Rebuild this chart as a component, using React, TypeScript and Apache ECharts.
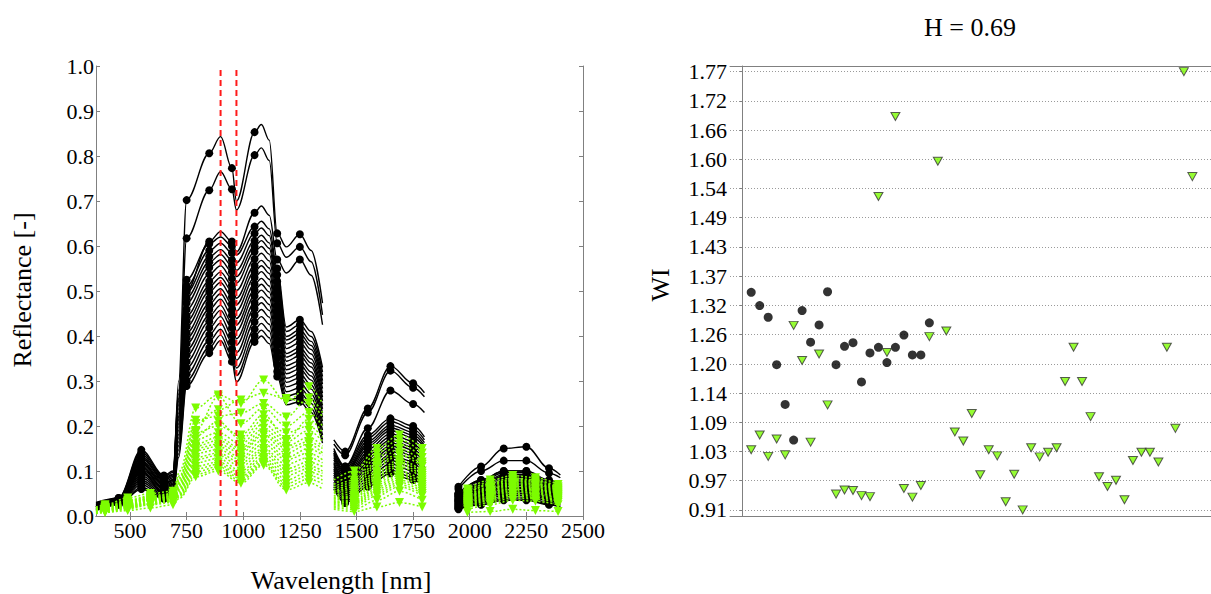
import React, { useEffect, useRef } from "react";
import * as echarts from "echarts";

const FONT = "Liberation Serif";

// ---------------- Left panel: reflectance spectra ----------------
const X_TICKS = [500, 750, 1000, 1250, 1500, 1750, 2000, 2250, 2500];
const WATER_BANDS = [900, 970];

// wavelength grid of the black (marked with circles) spectra
const B_SEG1 = [350, 450, 550, 650, 690, 715, 750, 850, 900, 950, 970, 1050, 1080, 1115, 1150, 1190, 1250, 1300, 1350];
const B_SEG2 = [1400, 1450, 1550, 1650, 1750, 1800];
const B_SEG3 = [1950, 2050, 2150, 2250, 2350, 2400];
const BLACK_MARK_WL = [450, 550, 650, 750, 850, 950, 1050, 1150, 1250, 1450, 1550, 1650, 1750, 1950, 2050, 2150, 2250, 2350];

const BLACK_SPECTRA: number[][] = [
  [0.020, 0.040, 0.120, 0.070, 0.080, 0.300, 0.702, 0.806, 0.843, 0.773, 0.700, 0.853, 0.870, 0.835, 0.628, 0.598, 0.626, 0.590, 0.473, 0.169, 0.143, 0.239, 0.333, 0.295, 0.274, 0.065, 0.110, 0.150, 0.154, 0.106, 0.091],
  [0.020, 0.035, 0.110, 0.060, 0.070, 0.260, 0.617, 0.724, 0.765, 0.726, 0.680, 0.802, 0.818, 0.790, 0.606, 0.575, 0.598, 0.565, 0.447, 0.160, 0.135, 0.230, 0.323, 0.285, 0.265, 0.060, 0.100, 0.123, 0.123, 0.095, 0.085],
  [0.020, 0.030, 0.100, 0.050, 0.060, 0.220, 0.500, 0.610, 0.632, 0.610, 0.587, 0.674, 0.689, 0.668, 0.570, 0.540, 0.570, 0.535, 0.425, 0.140, 0.110, 0.195, 0.279, 0.249, 0.230, 0.050, 0.080, 0.100, 0.100, 0.080, 0.070],
  [0.030, 0.040, 0.147, 0.090, 0.100, 0.280, 0.525, 0.605, 0.620, 0.600, 0.580, 0.643, 0.655, 0.638, 0.550, 0.420, 0.436, 0.410, 0.330, 0.145, 0.105, 0.173, 0.210, 0.193, 0.169, 0.048, 0.077, 0.096, 0.096, 0.072, 0.062],
  [0.029, 0.039, 0.142, 0.087, 0.097, 0.271, 0.511, 0.590, 0.606, 0.585, 0.563, 0.628, 0.640, 0.623, 0.536, 0.410, 0.425, 0.399, 0.320, 0.130, 0.092, 0.155, 0.190, 0.174, 0.152, 0.042, 0.068, 0.086, 0.086, 0.064, 0.055],
  [0.028, 0.038, 0.137, 0.084, 0.093, 0.262, 0.497, 0.576, 0.592, 0.569, 0.546, 0.612, 0.624, 0.607, 0.521, 0.399, 0.414, 0.388, 0.310, 0.150, 0.110, 0.180, 0.217, 0.200, 0.176, 0.050, 0.080, 0.100, 0.100, 0.075, 0.065],
  [0.027, 0.037, 0.132, 0.081, 0.091, 0.255, 0.485, 0.564, 0.581, 0.556, 0.532, 0.599, 0.612, 0.595, 0.509, 0.391, 0.405, 0.379, 0.301, 0.119, 0.082, 0.141, 0.176, 0.159, 0.138, 0.038, 0.061, 0.078, 0.078, 0.058, 0.050],
  [0.026, 0.037, 0.128, 0.079, 0.088, 0.247, 0.473, 0.552, 0.569, 0.543, 0.518, 0.587, 0.599, 0.582, 0.497, 0.382, 0.396, 0.370, 0.293, 0.139, 0.100, 0.166, 0.202, 0.186, 0.163, 0.046, 0.073, 0.092, 0.092, 0.069, 0.060],
  [0.025, 0.036, 0.123, 0.075, 0.085, 0.238, 0.459, 0.537, 0.556, 0.528, 0.501, 0.571, 0.584, 0.567, 0.483, 0.372, 0.385, 0.360, 0.283, 0.135, 0.096, 0.160, 0.196, 0.180, 0.157, 0.044, 0.071, 0.089, 0.089, 0.067, 0.057],
  [0.024, 0.035, 0.117, 0.072, 0.081, 0.229, 0.445, 0.522, 0.542, 0.513, 0.484, 0.556, 0.568, 0.551, 0.468, 0.361, 0.374, 0.349, 0.273, 0.105, 0.070, 0.123, 0.156, 0.140, 0.121, 0.033, 0.053, 0.068, 0.068, 0.050, 0.043],
  [0.023, 0.034, 0.113, 0.070, 0.079, 0.222, 0.433, 0.510, 0.530, 0.500, 0.470, 0.543, 0.556, 0.539, 0.456, 0.353, 0.365, 0.340, 0.264, 0.125, 0.087, 0.148, 0.183, 0.166, 0.145, 0.040, 0.065, 0.082, 0.082, 0.061, 0.052],
  [0.022, 0.033, 0.109, 0.067, 0.076, 0.214, 0.421, 0.498, 0.519, 0.487, 0.456, 0.530, 0.543, 0.526, 0.444, 0.344, 0.356, 0.331, 0.256, 0.096, 0.061, 0.111, 0.144, 0.128, 0.109, 0.029, 0.047, 0.061, 0.061, 0.045, 0.038],
  [0.021, 0.033, 0.104, 0.064, 0.073, 0.205, 0.407, 0.484, 0.505, 0.472, 0.439, 0.515, 0.528, 0.511, 0.430, 0.334, 0.345, 0.320, 0.246, 0.115, 0.078, 0.135, 0.169, 0.153, 0.133, 0.036, 0.059, 0.075, 0.075, 0.056, 0.047],
  [0.020, 0.032, 0.099, 0.061, 0.070, 0.198, 0.395, 0.471, 0.494, 0.459, 0.425, 0.502, 0.515, 0.498, 0.418, 0.325, 0.336, 0.311, 0.238, 0.110, 0.074, 0.129, 0.163, 0.147, 0.127, 0.035, 0.056, 0.071, 0.071, 0.053, 0.045],
  [0.019, 0.031, 0.095, 0.059, 0.067, 0.190, 0.383, 0.459, 0.482, 0.446, 0.411, 0.489, 0.502, 0.485, 0.406, 0.316, 0.327, 0.302, 0.229, 0.081, 0.048, 0.091, 0.123, 0.108, 0.091, 0.023, 0.038, 0.050, 0.050, 0.037, 0.030],
  [0.018, 0.030, 0.090, 0.056, 0.064, 0.181, 0.369, 0.445, 0.468, 0.430, 0.394, 0.474, 0.487, 0.470, 0.392, 0.306, 0.316, 0.291, 0.219, 0.101, 0.065, 0.117, 0.150, 0.134, 0.115, 0.031, 0.050, 0.064, 0.064, 0.048, 0.040],
  [0.017, 0.029, 0.085, 0.053, 0.061, 0.174, 0.357, 0.432, 0.457, 0.418, 0.380, 0.461, 0.474, 0.457, 0.380, 0.297, 0.307, 0.282, 0.211, 0.091, 0.057, 0.104, 0.136, 0.121, 0.103, 0.027, 0.044, 0.057, 0.057, 0.042, 0.035],
  [0.016, 0.028, 0.080, 0.050, 0.058, 0.165, 0.343, 0.418, 0.443, 0.402, 0.363, 0.446, 0.459, 0.442, 0.365, 0.287, 0.296, 0.271, 0.201, 0.070, 0.038, 0.078, 0.108, 0.093, 0.077, 0.019, 0.031, 0.042, 0.042, 0.030, 0.025],
  [0.015, 0.028, 0.075, 0.047, 0.054, 0.156, 0.329, 0.403, 0.429, 0.387, 0.346, 0.431, 0.443, 0.426, 0.351, 0.276, 0.285, 0.261, 0.191, 0.086, 0.052, 0.098, 0.130, 0.115, 0.097, 0.025, 0.041, 0.054, 0.054, 0.040, 0.033],
  [0.014, 0.027, 0.070, 0.044, 0.051, 0.147, 0.315, 0.389, 0.415, 0.371, 0.329, 0.415, 0.428, 0.411, 0.336, 0.266, 0.274, 0.250, 0.180, 0.060, 0.029, 0.065, 0.095, 0.080, 0.065, 0.015, 0.025, 0.035, 0.035, 0.025, 0.020],
  [0.013, 0.026, 0.064, 0.041, 0.048, 0.138, 0.301, 0.374, 0.402, 0.356, 0.312, 0.400, 0.413, 0.396, 0.321, 0.256, 0.263, 0.239, 0.170, 0.075, 0.043, 0.085, 0.116, 0.100, 0.084, 0.021, 0.034, 0.046, 0.046, 0.034, 0.028],
  [0.012, 0.025, 0.060, 0.038, 0.045, 0.130, 0.289, 0.362, 0.390, 0.343, 0.298, 0.387, 0.400, 0.383, 0.310, 0.247, 0.254, 0.230, 0.162, 0.065, 0.033, 0.071, 0.101, 0.086, 0.071, 0.017, 0.028, 0.038, 0.038, 0.027, 0.022],
];

// wavelength grid of the green (marked with triangles) spectra
const G_SEG1 = [350, 390, 490, 590, 690, 720, 790, 890, 990, 1090, 1190, 1290, 1350];
const G_SEG2 = [1400, 1490, 1590, 1690, 1790];
const G_SEG3 = [1990, 2090, 2190, 2290, 2390];
const GREEN_MARK_WL = [390, 490, 590, 690, 790, 890, 990, 1090, 1190, 1290, 1490, 1590, 1690, 1790, 1990, 2090, 2190, 2290, 2390];

const GREEN_SPECTRA: number[][] = [
  [0.020, 0.025, 0.040, 0.050, 0.055, 0.100, 0.240, 0.269, 0.250, 0.302, 0.255, 0.287, 0.250, 0.080, 0.100, 0.150, 0.180, 0.150, 0.060, 0.080, 0.090, 0.085, 0.070],
  [0.018, 0.022, 0.035, 0.045, 0.050, 0.090, 0.205, 0.236, 0.258, 0.273, 0.261, 0.250, 0.220, 0.070, 0.090, 0.140, 0.170, 0.140, 0.055, 0.075, 0.085, 0.080, 0.065],
  [0.016, 0.020, 0.033, 0.043, 0.048, 0.085, 0.213, 0.222, 0.229, 0.250, 0.220, 0.262, 0.230, 0.065, 0.080, 0.130, 0.160, 0.130, 0.050, 0.072, 0.082, 0.078, 0.062],
  [0.015, 0.019, 0.032, 0.042, 0.047, 0.082, 0.190, 0.265, 0.205, 0.240, 0.200, 0.230, 0.200, 0.060, 0.075, 0.120, 0.150, 0.120, 0.048, 0.070, 0.080, 0.075, 0.060],
  [0.014, 0.018, 0.030, 0.040, 0.045, 0.078, 0.185, 0.200, 0.180, 0.225, 0.170, 0.215, 0.185, 0.055, 0.070, 0.115, 0.140, 0.115, 0.045, 0.065, 0.078, 0.072, 0.058],
  [0.013, 0.017, 0.029, 0.039, 0.044, 0.075, 0.177, 0.210, 0.170, 0.215, 0.185, 0.200, 0.175, 0.052, 0.065, 0.110, 0.135, 0.110, 0.042, 0.062, 0.075, 0.070, 0.056],
  [0.013, 0.016, 0.028, 0.038, 0.043, 0.072, 0.170, 0.185, 0.160, 0.205, 0.165, 0.190, 0.165, 0.050, 0.060, 0.100, 0.125, 0.100, 0.040, 0.060, 0.072, 0.068, 0.054],
  [0.012, 0.015, 0.027, 0.037, 0.042, 0.070, 0.160, 0.175, 0.150, 0.195, 0.155, 0.175, 0.155, 0.045, 0.055, 0.095, 0.120, 0.095, 0.038, 0.058, 0.070, 0.065, 0.052],
  [0.012, 0.015, 0.026, 0.036, 0.041, 0.068, 0.155, 0.168, 0.145, 0.185, 0.150, 0.165, 0.150, 0.042, 0.050, 0.090, 0.115, 0.090, 0.036, 0.055, 0.068, 0.062, 0.050],
  [0.011, 0.014, 0.025, 0.035, 0.040, 0.065, 0.150, 0.160, 0.140, 0.180, 0.140, 0.160, 0.140, 0.040, 0.045, 0.085, 0.110, 0.085, 0.034, 0.052, 0.065, 0.060, 0.048],
  [0.011, 0.014, 0.024, 0.034, 0.039, 0.062, 0.145, 0.155, 0.130, 0.170, 0.130, 0.150, 0.135, 0.038, 0.042, 0.080, 0.100, 0.080, 0.032, 0.050, 0.062, 0.058, 0.046],
  [0.010, 0.013, 0.023, 0.033, 0.038, 0.060, 0.139, 0.148, 0.125, 0.160, 0.125, 0.140, 0.125, 0.035, 0.040, 0.075, 0.095, 0.075, 0.030, 0.048, 0.060, 0.055, 0.044],
  [0.010, 0.013, 0.022, 0.032, 0.037, 0.058, 0.130, 0.140, 0.118, 0.150, 0.115, 0.130, 0.118, 0.032, 0.035, 0.070, 0.090, 0.070, 0.028, 0.045, 0.057, 0.052, 0.042],
  [0.009, 0.012, 0.021, 0.031, 0.036, 0.055, 0.125, 0.135, 0.110, 0.145, 0.105, 0.120, 0.110, 0.030, 0.032, 0.065, 0.085, 0.065, 0.026, 0.042, 0.054, 0.050, 0.040],
  [0.009, 0.012, 0.020, 0.030, 0.035, 0.052, 0.118, 0.128, 0.100, 0.138, 0.098, 0.112, 0.100, 0.028, 0.030, 0.060, 0.080, 0.060, 0.024, 0.040, 0.050, 0.047, 0.038],
  [0.008, 0.011, 0.019, 0.029, 0.034, 0.050, 0.110, 0.120, 0.095, 0.130, 0.090, 0.105, 0.095, 0.025, 0.027, 0.055, 0.075, 0.055, 0.022, 0.037, 0.047, 0.044, 0.035],
  [0.008, 0.011, 0.018, 0.028, 0.033, 0.048, 0.104, 0.115, 0.088, 0.125, 0.080, 0.098, 0.088, 0.022, 0.024, 0.050, 0.070, 0.050, 0.020, 0.034, 0.044, 0.041, 0.033],
  [0.007, 0.010, 0.017, 0.027, 0.032, 0.046, 0.098, 0.110, 0.083, 0.120, 0.072, 0.090, 0.080, 0.020, 0.020, 0.045, 0.065, 0.045, 0.018, 0.030, 0.040, 0.038, 0.030],
  [0.006, 0.009, 0.015, 0.025, 0.030, 0.043, 0.092, 0.105, 0.078, 0.116, 0.065, 0.082, 0.072, 0.018, 0.015, 0.035, 0.055, 0.035, 0.014, 0.025, 0.035, 0.033, 0.025],
  [0.005, 0.008, 0.012, 0.018, 0.025, 0.040, 0.087, 0.100, 0.073, 0.113, 0.058, 0.074, 0.060, 0.015, 0.010, 0.020, 0.030, 0.020, 0.008, 0.010, 0.015, 0.012, 0.010],
];

// ---------------- Right panel: WI per sample ----------------
const WI_BLACK = [1.341, 1.315, 1.292, 1.199, 1.121, 1.051, 1.305, 1.243, 1.277, 1.342, 1.199, 1.235, 1.242, 1.165, 1.222, 1.233, 1.203, 1.233, 1.257, 1.218, 1.218, 1.281];
const WI_GREEN = [
  1.032, 1.061, 1.019, 1.053, 1.022, 1.276, 1.207, 1.047, 1.220, 1.120,
  0.945, 0.953, 0.952, 0.942, 0.940, 1.529, 1.223, 1.686, 0.956, 0.939,
  0.962, 1.254, 1.598, 1.265, 1.067, 1.049, 1.103, 0.983, 1.032, 1.020,
  0.930, 0.984, 0.914, 1.036, 1.018, 1.027, 1.036, 1.166, 1.233, 1.166,
  1.097, 0.979, 0.960, 0.972, 0.934, 1.011, 1.027, 1.027, 1.008, 1.233,
  1.074, 1.774, 1.568,
];
const WI_TICKS = [0.914, 0.9713, 1.0287, 1.086, 1.1433, 1.2007, 1.258, 1.3153, 1.3727, 1.43, 1.4873, 1.5447, 1.602, 1.6593, 1.7167, 1.774];

const GREEN = "#7CFC00";
const AXIS_GREY = "#808080";

function buildLine(segs: number[][], vals: number[]) {
  const out: any[] = [];
  let k = 0;
  segs.forEach((seg, si) => {
    if (si > 0) {
      const prev = segs[si - 1];
      out.push([(prev[prev.length - 1] + seg[0]) / 2, "-"]);
    }
    seg.forEach((w) => {
      out.push([w, vals[k]]);
      k += 1;
    });
  });
  return out;
}

const labelStyle = { color: "#000", fontSize: 22, fontFamily: FONT, fontWeight: "normal" };

export default function App() {
  const ref = useRef<HTMLDivElement>(null);

  useEffect(() => {
    if (!ref.current) return;
    const chart = echarts.init(ref.current, undefined, { renderer: "svg" });

    const blackSeries = BLACK_SPECTRA.map((vals) => ({
      type: "line",
      xAxisIndex: 0,
      yAxisIndex: 0,
      data: buildLine([B_SEG1, B_SEG2, B_SEG3], vals),
      smooth: 0.35,
      smoothMonotone: "x",
      showSymbol: true,
      symbol: (v: any) => (BLACK_MARK_WL.includes(v[0]) ? "circle" : "none"),
      symbolSize: 8,
      itemStyle: { color: "#000" },
      lineStyle: { color: "#000", width: 1.4 },
      silent: true,
      z: 2,
    }));

    const greenSeries = GREEN_SPECTRA.map((vals) => ({
      type: "line",
      xAxisIndex: 0,
      yAxisIndex: 0,
      data: buildLine([G_SEG1, G_SEG2, G_SEG3], vals),
      smooth: 0.35,
      smoothMonotone: "x",
      showSymbol: true,
      symbol: (v: any) => (GREEN_MARK_WL.includes(v[0]) ? "triangle" : "none"),
      symbolRotate: 180,
      symbolSize: 9,
      itemStyle: { color: GREEN },
      lineStyle: { color: GREEN, width: 1.5, type: [2, 2] },
      silent: true,
      z: 3,
    }));

    const bandSeries = WATER_BANDS.map((wl) => ({
      type: "line",
      xAxisIndex: 0,
      yAxisIndex: 0,
      data: [
        [wl, 0],
        [wl, 1],
      ],
      symbol: "none",
      lineStyle: { color: "#ff1a1a", width: 2, type: [6, 4] },
      silent: true,
      z: 5,
    }));

    const option: any = {
      animation: false,
      backgroundColor: "#fff",
      textStyle: { fontFamily: FONT },
      grid: [
        { left: 96, top: 66, width: 487, height: 450, outerBoundsMode: "none" },
        { left: 730, top: 66, width: 481, height: 450, outerBoundsMode: "none" },
      ],
      xAxis: [
        {
          gridIndex: 0,
          type: "value",
          position: "bottom",
          min: 350,
          max: 2500,
          axisLine: { show: true, lineStyle: { color: AXIS_GREY, width: 1 } },
          axisTick: { show: true, inside: true, length: 4, customValues: X_TICKS, lineStyle: { color: AXIS_GREY } },
          axisLabel: { ...labelStyle, margin: 3, customValues: X_TICKS, formatter: (v: number) => String(v) },
          splitLine: { show: false },
        },
        {
          gridIndex: 0,
          type: "value",
          position: "top",
          min: 350,
          max: 2500,
          axisLine: { show: true, lineStyle: { color: AXIS_GREY, width: 1 } },
          axisTick: { show: true, inside: true, length: 4, customValues: X_TICKS, lineStyle: { color: AXIS_GREY } },
          axisLabel: { show: false },
          splitLine: { show: false },
        },
        {
          gridIndex: 1,
          type: "value",
          position: "bottom",
          min: -1.5,
          max: 55.2,
          axisLine: { show: true, lineStyle: { color: AXIS_GREY, width: 1 } },
          axisTick: { show: false },
          axisLabel: { show: false },
          splitLine: { show: false },
        },
        {
          gridIndex: 1,
          type: "value",
          position: "top",
          min: -1.5,
          max: 55.2,
          axisLine: { show: true, lineStyle: { color: AXIS_GREY, width: 1 } },
          axisTick: { show: false },
          axisLabel: { show: false },
          splitLine: { show: false },
        },
      ],
      yAxis: [
        {
          gridIndex: 0,
          type: "value",
          position: "left",
          min: 0,
          max: 1,
          interval: 0.1,
          axisLine: { show: true, lineStyle: { color: AXIS_GREY, width: 1 } },
          axisTick: { show: true, inside: true, length: 4, lineStyle: { color: AXIS_GREY } },
          axisLabel: { ...labelStyle, margin: 2, formatter: (v: number) => v.toFixed(1) },
          splitLine: { show: false },
        },
        {
          gridIndex: 0,
          type: "value",
          position: "right",
          min: 0,
          max: 1,
          interval: 0.1,
          axisLine: { show: true, lineStyle: { color: AXIS_GREY, width: 1 } },
          axisTick: { show: true, inside: true, length: 4, lineStyle: { color: AXIS_GREY } },
          axisLabel: { show: false },
          splitLine: { show: false },
        },
        {
          gridIndex: 1,
          type: "value",
          position: "left",
          min: 0.902,
          max: 1.785,
          axisLine: { show: true, lineStyle: { color: AXIS_GREY, width: 1 } },
          axisTick: { show: true, inside: false, length: 3, customValues: WI_TICKS, lineStyle: { color: AXIS_GREY } },
          axisLabel: { ...labelStyle, margin: 3, customValues: WI_TICKS, formatter: (v: number) => v.toFixed(2) },
          splitLine: { show: true, lineStyle: { color: "#9a9a9a", width: 1, type: [1, 2] } },
        },
      ],
      series: [
        ...blackSeries,
        ...greenSeries,
        ...bandSeries,
        {
          type: "scatter",
          xAxisIndex: 2,
          yAxisIndex: 2,
          data: WI_BLACK.map((v, i) => [i + 1, v]),
          symbol: "circle",
          symbolSize: 9,
          itemStyle: { color: "#000" },
          silent: true,
          z: 4,
        },
        {
          type: "scatter",
          xAxisIndex: 2,
          yAxisIndex: 2,
          data: WI_GREEN.map((v, i) => [i + 1, v]),
          symbol: "triangle",
          symbolRotate: 180,
          symbolSize: [9, 8],
          itemStyle: { color: GREEN, borderColor: "#333", borderWidth: 1 },
          silent: true,
          z: 4,
        },
      ],
      graphic: [
        {
          type: "text",
          x: 341,
          y: 580,
          style: { text: "Wavelength [nm]", font: `26px ${FONT}`, fill: "#000", align: "center", verticalAlign: "middle" },
        },
        {
          type: "text",
          x: 22,
          y: 290,
          rotation: Math.PI / 2,
          style: { text: "Reflectance [-]", font: `26px ${FONT}`, fill: "#000", align: "center", verticalAlign: "middle" },
        },
        {
          type: "text",
          x: 660,
          y: 285,
          rotation: Math.PI / 2,
          style: { text: "WI", font: `26px ${FONT}`, fill: "#000", align: "center", verticalAlign: "middle" },
        },
        {
          type: "text",
          x: 970,
          y: 27,
          style: { text: "H = 0.69", font: `26px ${FONT}`, fill: "#000", align: "center", verticalAlign: "middle" },
        },
      ],
    };

    chart.setOption(option);
    return () => {
      chart.dispose();
    };
  }, []);

  return (
    <div
      ref={ref}
      style={{ position: "fixed", left: 0, top: 0, width: 1211, height: 594, background: "#fff" }}
    />
  );
}
